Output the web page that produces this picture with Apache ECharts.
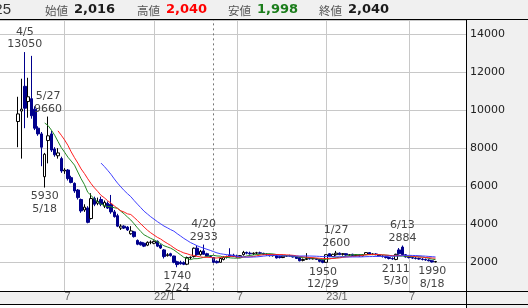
<!DOCTYPE html>
<html><head><meta charset="utf-8">
<script src="https://cdn.jsdelivr.net/npm/echarts@6/dist/echarts.min.js"></script>
<style>html,body{margin:0;padding:0;background:#fff}#c{width:528px;height:308px}</style>
</head><body><div id="c"></div>
<script>
// Weekly candles, first week starting 2021/3/22
const firstWeek = [2021, 3, 22];
const padBefore = 5, padAfter = 9;
const opens  = [9400,9950,11250,10450,10600,10050,9050,8750,6500,8400,
  8750,7950,7600,7450,6800,6850,6450,6150,5800,5300,
  4750,4850,4300,5350,5100,5300,4950,5100,5050,4650,
  4450,3800,3900,3850,3500,3600,3150,3050,3000,2900,
  3050,3000,3100,2900,2650,2350,2450,2330,2030,2000,
  1980,1900,2250,2300,2740,2400,2600,2450,2320,2250,
  2050,2000,2150,2260,2380,2380,2330,2280,2400,2520,
  2480,2450,2480,2500,2470,2420,2400,2350,2380,2300,
  2250,2320,2350,2330,2280,2250,2100,2150,2200,2180,
  2200,2150,2100,2000,2450,2300,2400,2480,2420,2450,
  2380,2420,2350,2400,2330,2400,2510,2420,2440,2400,
  2330,2300,2250,2200,2150,2650,2800,2400,2280,2250,
  2220,2200,2170,2150,2120,2080,2020];
const highs  = [10700,11650,13050,11700,12850,10200,9150,8850,7750,9660,
  8900,8050,8000,7550,6950,6900,6550,6200,5850,5350,
  5050,4950,5630,5450,5400,5450,5250,5200,5540,4750,
  4550,4000,3950,3900,3900,3650,3200,3100,3050,3100,
  3150,3150,3150,2950,2700,2480,2500,2350,2080,2080,
  2050,2300,2300,2780,2900,2650,2933,2500,2380,2280,
  2100,2250,2320,2350,2740,2450,2400,2380,2600,2560,
  2560,2520,2550,2560,2500,2480,2450,2420,2400,2350,
  2350,2380,2400,2380,2320,2280,2200,2480,2250,2220,
  2230,2180,2150,2420,2480,2450,2600,2520,2480,2470,
  2420,2450,2430,2420,2420,2530,2530,2470,2480,2430,
  2380,2350,2300,2260,2450,2750,2884,2430,2320,2300,
  2280,2250,2220,2200,2160,2100,2060];
const lows   = [8050,7450,9050,9600,9550,8950,8650,7050,5930,7200,
  7800,7550,7450,6700,6650,6300,6150,5650,5300,4600,
  4650,4050,4250,4950,5000,4950,4850,4800,4550,4350,
  3850,3700,3750,3650,3450,3300,2900,2880,2800,2850,
  2950,2950,2800,2700,2200,2300,2300,1950,1740,1880,
  1850,1850,2150,2250,2350,2350,2400,2280,2260,1950,
  1940,1980,2100,2200,2250,2280,2250,2250,2350,2420,
  2400,2380,2420,2430,2380,2350,2300,2300,2200,2200,
  2220,2280,2300,2250,2180,2050,2050,2120,2150,2150,
  2120,2000,1950,1980,2280,2280,2350,2380,2350,2350,
  2320,2330,2320,2300,2310,2380,2400,2380,2370,2300,
  2250,2200,2150,2130,2111,2400,2350,2250,2200,2180,
  2150,2130,2100,2080,2050,1990,1998];
const closes = [9800,10050,10100,10700,9700,9050,8750,8050,7680,8650,
  7900,7650,7750,6800,6850,6400,6200,5750,5400,4700,
  4900,4100,5350,5050,5200,5050,5150,4850,4650,4400,
  3900,3900,3800,3700,3650,3350,2950,2920,2850,3050,
  3060,3100,2850,2750,2300,2400,2350,2000,1880,1920,
  1900,2250,2270,2740,2400,2570,2420,2320,2300,2000,
  1980,2200,2260,2300,2320,2300,2280,2350,2520,2480,
  2450,2480,2500,2470,2420,2400,2350,2380,2230,2250,
  2320,2350,2330,2280,2200,2080,2150,2200,2180,2200,
  2150,2050,2000,2400,2300,2420,2480,2400,2450,2380,
  2400,2350,2400,2330,2400,2510,2420,2440,2400,2330,
  2300,2250,2200,2180,2420,2450,2400,2280,2250,2220,
  2200,2170,2150,2120,2080,2020,2040];
const maPeriods = [9, 13, 26];
const xTickDates  = ['2021/6/28', '2022/1/3', '2022/6/27', '2023/1/2', '2023/6/26'];
const xTickLabels = ['7', '22/1', '7', '23/1', '7'];
const markerDate = '2022/5/9';
const annotations = [
  {date: '2021/4/5',   value: 13050, text: '4/5\n13050', pos: 'top'},
  {date: '2021/5/24',  value: 9660,  text: '5/27\n9660', pos: 'top'},
  {date: '2021/5/17',  value: 5930,  text: '5930\n5/18', pos: 'bottom'},
  {date: '2022/2/21',  value: 1740,  text: '1740\n2/24', pos: 'bottom'},
  {date: '2022/4/18',  value: 2933,  text: '4/20\n2933', pos: 'top'},
  {date: '2022/12/26', value: 1950,  text: '1950\n12/29', pos: 'bottom'},
  {date: '2023/1/23',  value: 2600,  text: '1/27\n2600', pos: 'top'},
  {date: '2023/5/29',  value: 2111,  text: '2111\n5/30', pos: 'bottom'},
  {date: '2023/6/12',  value: 2884,  text: '6/13\n2884', pos: 'top'},
  {date: '2023/8/14',  value: 1990,  text: '1990\n8/18', pos: 'bottom'}
];
const headerDay = '25';
const headerLabels = ['始値', '高値', '安値', '終値'];
const headerValues = ['2,016', '2,040', '1,998', '2,040'];
const yMin = 0, yMax = 14736, yInterval = 2000;

// ---- build ----
const n = opens.length;
const total = padBefore + n + padAfter;
const cats = [];
for (let i = 0; i < total; i++) {
  const d = new Date(Date.UTC(firstWeek[0], firstWeek[1] - 1, firstWeek[2] + 7 * (i - padBefore)));
  cats.push(d.getUTCFullYear() + '/' + (d.getUTCMonth() + 1) + '/' + d.getUTCDate());
}
const candle = cats.map((c, i) => {
  const k = i - padBefore;
  if (k < 0 || k >= n) return ['-', '-', '-', '-'];
  return [opens[k], closes[k], lows[k], highs[k]];
});
function movingAvg(p) {
  return cats.map((c, i) => {
    const k = i - padBefore;
    if (k < p - 1 || k >= n) return '-';
    let s = 0;
    for (let j = k - p + 1; j <= k; j++) s += closes[j];
    return +(s / p).toFixed(1);
  });
}
const tickIdx = xTickDates.map(d => cats.indexOf(d));
const isTick = (i) => tickIdx.indexOf(i) >= 0;

const maColors = ['#248a24', '#ff2020', '#4040ff'];
const hdrX = [[45, 74], [137, 166], [228, 257], [319, 348]];
const hdrColors = ['#1a1a1a', '#ff0000', '#1b7d1b', '#1a1a1a'];
const graphic = [
  {type: 'rect', shape: {x: 0, y: 291, width: 528, height: 14}, style: {fill: '#f0f0f0'}, z: 100, silent: true},
  {type: 'rect', shape: {x: 0, y: 305, width: 528, height: 3}, style: {fill: '#ffffff'}, z: 100, silent: true},
  {type: 'rect', shape: {x: 467, y: 291, width: 61, height: 17}, style: {fill: '#f0f0f0'}, z: 100, silent: true},
  {type: 'line', shape: {x1: 0, y1: 19.5, x2: 528, y2: 19.5}, style: {stroke: '#000', lineWidth: 1}, z: 102, silent: true},
  {type: 'line', shape: {x1: 0, y1: 291.5, x2: 528, y2: 291.5}, style: {stroke: '#000', lineWidth: 1}, z: 102, silent: true},
  {type: 'line', shape: {x1: 0, y1: 304.5, x2: 528, y2: 304.5}, style: {stroke: '#000', lineWidth: 1}, z: 102, silent: true},
  {type: 'line', shape: {x1: 466.5, y1: 19, x2: 466.5, y2: 308}, style: {stroke: '#000', lineWidth: 1}, z: 102, silent: true},
  {type: 'text', x: 11, y: 10, style: {text: headerDay, fill: '#333', font: '15px "Liberation Sans"', align: 'right', verticalAlign: 'middle', textAlign: 'right', textVerticalAlign: 'middle'}, z: 102, silent: true}
];
headerLabels.forEach((lab, i) => {
  graphic.push({type: 'text', x: hdrX[i][0], y: 10.5, style: {text: lab, fill: '#555', font: '11.5px "Noto Sans CJK JP"', align: 'left', verticalAlign: 'middle', textAlign: 'left', textVerticalAlign: 'middle'}, z: 102, silent: true});
  graphic.push({type: 'text', x: hdrX[i][1], y: 9.5, style: {text: headerValues[i], fill: hdrColors[i], font: 'bold 13px "DejaVu Sans"', align: 'left', verticalAlign: 'middle', textAlign: 'left', textVerticalAlign: 'middle'}, z: 102, silent: true});
});

const chart = echarts.init(document.getElementById('c'), null, {renderer: 'canvas'});
chart.setOption({
  backgroundColor: '#f0f0f0',
  animation: false,
  grid: {left: 0, right: 61, top: 20, height: 280.35, show: true, backgroundColor: '#ffffff', borderWidth: 0},
  xAxis: [{
    type: 'category', data: cats, boundaryGap: true,
    axisLine: {show: false}, axisTick: {show: false}, axisLabel: {show: false},
    splitLine: {show: true, interval: (i) => isTick(i), alignWithLabel: true, lineStyle: {color: '#c8c8c8', width: 1}}
  }, {
    type: 'category', data: cats, boundaryGap: true, position: 'bottom', z: 110,
    axisLine: {show: false}, axisTick: {show: false}, splitLine: {show: false},
    axisLabel: {
      show: true, interval: (i) => isTick(i),
      formatter: (v, i) => { const t = xTickDates.indexOf(v); return t >= 0 ? xTickLabels[t] : ''; },
      align: 'left', verticalAlign: 'middle', margin: -3,
      color: '#666', fontSize: 11, fontFamily: 'Liberation Sans'
    }
  }],
  yAxis: {
    type: 'value', position: 'right', min: yMin, max: yMax, interval: yInterval,
    axisLine: {show: false}, axisTick: {show: false},
    axisLabel: {margin: 3, color: '#222', fontSize: 11, fontFamily: 'DejaVu Sans',
      formatter: (v) => (v > 0 && v % yInterval === 0) ? String(v) : ''},
    splitLine: {show: true, lineStyle: {color: '#c8c8c8', width: 1}}
  },
  graphic: graphic,
  series: [{
    type: 'candlestick', data: candle, barWidth: 3,
    itemStyle: {color: '#ffffff', color0: '#00008c', borderColor: '#000000', borderColor0: '#00008c', borderWidth: 1},
    markLine: {
      silent: true, symbol: ['none', 'none'], label: {show: false},
      lineStyle: {color: '#777', type: [2, 3], width: 1},
      data: [{xAxis: markerDate}]
    },
    markPoint: {
      silent: true, symbol: 'circle', symbolSize: 1,
      itemStyle: {color: 'rgba(0,0,0,0)'},
      label: {show: true, color: '#444', fontSize: 11, fontFamily: 'DejaVu Sans', lineHeight: 12.5},
      data: annotations.map(a => ({
        coord: [a.date, a.value], value: a.value,
        label: {formatter: a.text, position: a.pos, distance: a.pos === 'top' ? 1 : 2}
      }))
    }
  }].concat(maPeriods.map((p, i) => ({
    type: 'line', data: movingAvg(p), showSymbol: false, symbol: 'none',
    lineStyle: {color: maColors[i], width: 1}, z: 3, silent: true
  })))
});
</script>
</body></html>
